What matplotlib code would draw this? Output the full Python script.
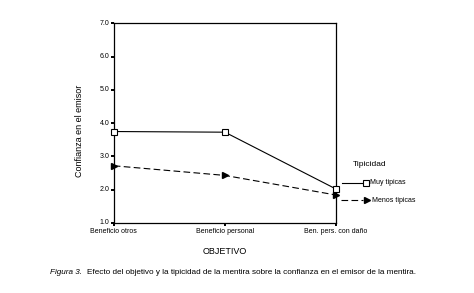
import matplotlib
matplotlib.use("Agg")
import matplotlib.pyplot as plt
from matplotlib.lines import Line2D
from matplotlib.transforms import ScaledTranslation

categories = ["Beneficio otros", "Beneficio personal", "Ben. pers. con daño"]
muy_tipicas = [3.75, 3.73, 2.02]
menos_tipicas = [2.72, 2.43, 1.84]
yticks = [1.0, 2.0, 3.0, 4.0, 5.0, 6.0, 7.0]
series_labels = ["Muy tipicas", "Menos tipicas"]

plt.rcParams['font.family'] = ['Liberation Sans', 'DejaVu Sans']

W, H = 474, 293
fig = plt.figure(figsize=(W / 100, H / 100), dpi=100)
ax = fig.add_axes([0.24, 0.239, 0.469, 0.681])
x = list(range(len(categories)))
sq = dict(marker='s', ms=4.8, mfc='white', mec='black', mew=0.8)
tri = dict(marker='>', ms=4.5, mfc='black', mec='black')
dash = (0, (6, 3))
ax.plot(x, muy_tipicas, color='black', lw=0.8, clip_on=False, zorder=3, **sq)
ax.plot(x, menos_tipicas, color='black', lw=0.8, ls=dash, clip_on=False, zorder=3, **tri)
ax.set_xlim(0, 2)
ax.set_ylim(1.0, 7.0)
ax.set_xticks(x)
ax.set_xticklabels(categories, fontsize=5)
ax.set_yticks(yticks)
ax.set_yticklabels([f"{v:.1f}" for v in yticks], fontsize=5, va='center')
off = ScaledTranslation(0, 2.5 / 100, fig.dpi_scale_trans)
for lab in ax.get_yticklabels():
    lab.set_transform(lab.get_transform() + off)
ax.tick_params(axis='y', length=2, width=1.4, pad=1.0, direction='out')
ax.tick_params(axis='x', length=2, width=1.4, pad=1.5, direction='out')
for s in ax.spines.values():
    s.set_linewidth(0.9)
ax.set_ylabel("Confianza en el emisor", fontsize=6.5)
ax.yaxis.set_label_coords(-0.135, 0.46)
ax.set_xlabel("OBJETIVO", fontsize=6.5, labelpad=9)

# manual legend (figure pixel coords converted to figure fractions)
def fx(px):
    return px / W

def fy(py):
    return 1 - py / H

fig.text(fx(353), fy(164), "Tipicidad", fontsize=6, ha='left', va='center')
fig.add_artist(Line2D([fx(342), fx(363)], [fy(182.7)] * 2, color='black', lw=0.8,
                      transform=fig.transFigure))
fig.add_artist(Line2D([fx(365.7)], [fy(182.7)], color='black', lw=0, transform=fig.transFigure, **sq))
fig.text(fx(370.5), fy(182.7), series_labels[0], fontsize=5, ha='left', va='center')
fig.add_artist(Line2D([fx(341), fx(363)], [fy(200.3)] * 2, color='black', lw=0.8, ls=dash,
                      transform=fig.transFigure))
fig.add_artist(Line2D([fx(366.7)], [fy(200.3)], color='black', lw=0, transform=fig.transFigure, **tri))
fig.text(fx(371.5), fy(200.3), series_labels[1], fontsize=5, ha='left', va='center')

# caption
cap_y = 0.07
t1 = fig.text(fx(50), cap_y, "Figura 3.", fontsize=5.9, style='italic', ha='left', va='center')
fig.canvas.draw()
bb = t1.get_window_extent()
fig.text(bb.x1 / W + 5 / W, cap_y,
         "Efecto del objetivo y la tipicidad de la mentira sobre la confianza en el emisor de la mentira.",
         fontsize=5.9, ha='left', va='center')

fig.savefig("out.png", dpi=100)
